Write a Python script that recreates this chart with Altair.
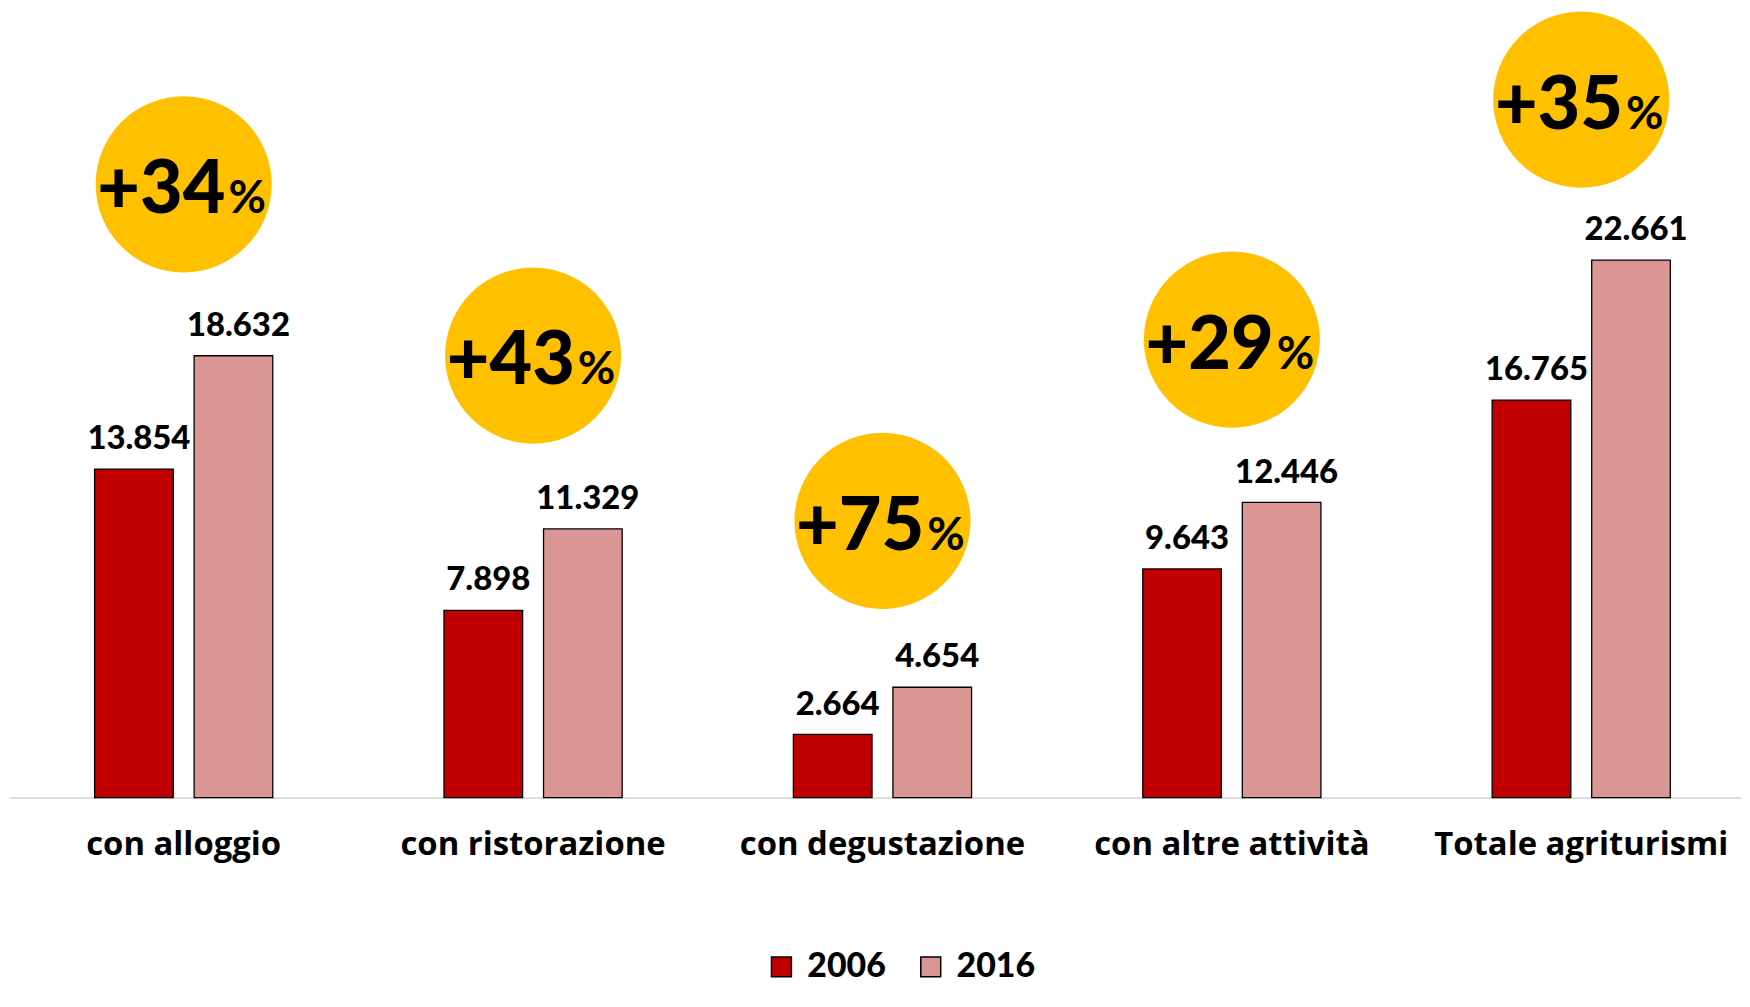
import altair as alt
import pandas as pd

categories = ["con alloggio", "con ristorazione", "con degustazione",
              "con altre attività", "Totale agriturismi"]
years = ["2006", "2016"]
values_2006 = [13854, 7898, 2664, 9643, 16765]
values_2016 = [18632, 11329, 4654, 12446, 22661]
growth_labels = ["+34", "+43", "+75", "+29", "+35"]
bubble_y = [25860, 18640, 11671, 19311, 29429]


def it_fmt(v):
    return f"{v:,}".replace(",", ".")


rows = []
for c, a, b in zip(categories, values_2006, values_2016):
    rows.append({"cat": c, "year": "2006", "value": a, "label": it_fmt(a)})
    rows.append({"cat": c, "year": "2016", "value": b, "label": it_fmt(b)})
bars_df = pd.DataFrame(rows)
bubble_df = pd.DataFrame({"cat": categories, "y": bubble_y,
                          "g": growth_labels, "pct": ["%"] * len(categories)})

FONT = "Lato"
x_scale = alt.Scale(domain=categories, range=[1, 1756], paddingInner=0, paddingOuter=0)
y_scale = alt.Scale(domain=[0, 33200], nice=False, zero=True)
xo_scale = alt.Scale(domain=years, paddingInner=0.21, paddingOuter=0.86)
color_scale = alt.Scale(domain=years, range=["#C00000", "#D99694"])

x_enc = alt.X("cat:N", scale=x_scale, title=None,
              axis=alt.Axis(labelFont="Open Sans", labelFontSize=33, labelFontWeight="bold",
                            labelColor="black", labelBaseline="alphabetic",
                            labelPadding=57, labelLimit=600, labelOverlap=False,
                            labelAngle=0, ticks=False, domainColor="#D9D9D9",
                            domainWidth=2, grid=False))
y_enc = alt.Y("value:Q", scale=y_scale, axis=None)

base = alt.Chart(bars_df)

bars = base.mark_bar(stroke="black", strokeWidth=1.3).encode(
    x=x_enc,
    xOffset=alt.XOffset("year:N", scale=xo_scale),
    y=y_enc,
    color=alt.Color("year:N", scale=color_scale,
                    legend=alt.Legend(orient="none", legendX=760, legendY=944,
                                      direction="horizontal", title=None,
                                      symbolType="square", symbolSize=400,
                                      symbolStrokeColor="black", symbolStrokeWidth=1.5,
                                      symbolOpacity=1,
                                      labelFont=FONT, labelFontSize=34,
                                      labelFontWeight=900, labelColor="black",
                                      labelOffset=9, columnPadding=28)),
)

labels = base.mark_text(font=FONT, fontSize=33, fontWeight=900, color="black",
                        baseline="alphabetic", dy=-20, dx=5).encode(
    x=x_enc,
    xOffset=alt.XOffset("year:N", scale=xo_scale),
    y=y_enc,
    text="label:N",
)

bub = alt.Chart(bubble_df)
circles = bub.mark_circle(color="#FFC000", opacity=1, size=31300).encode(
    x=x_enc,
    y=alt.Y("y:Q", scale=y_scale, axis=None),
)
gtext = bub.mark_text(font=FONT, fontSize=74, fontWeight=900, color="black",
                      align="right", baseline="alphabetic", dx=42, dy=29).encode(
    x=x_enc,
    y=alt.Y("y:Q", scale=y_scale, axis=None),
    text="g:N",
)
ptext = bub.mark_text(font=FONT, fontSize=46, fontWeight="bold", color="black",
                      align="left", baseline="alphabetic", dx=45, dy=29).encode(
    x=x_enc,
    y=alt.Y("y:Q", scale=y_scale, axis=None),
    text="pct:N",
)

chart = alt.layer(bars, labels, circles, gtext, ptext).properties(
    width=1742, height=791,
    autosize=alt.AutoSizeParams(type="none"),
    padding={"left": 0, "top": 0, "right": 0, "bottom": 193},
).configure(font=FONT).configure_view(stroke=None)

chart.save("out.html", embed_options={"renderer": "svg", "actions": False})
